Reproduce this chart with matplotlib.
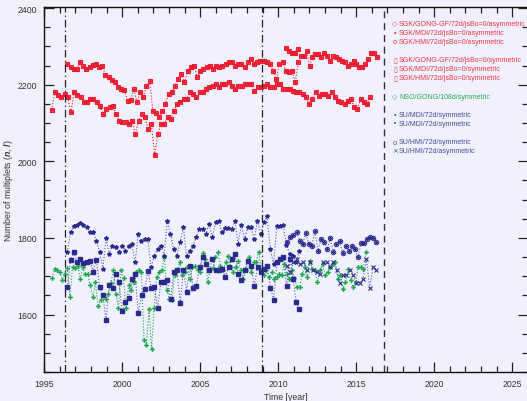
import numpy as np
import matplotlib
matplotlib.use('Agg')
import matplotlib.pyplot as plt
from matplotlib.ticker import MultipleLocator

plt.rcParams['font.family'] = ['Liberation Sans', 'DejaVu Sans']
plt.rcParams['mathtext.fontset'] = 'custom'
plt.rcParams['mathtext.it'] = 'Liberation Sans:italic:bold'
plt.rcParams['mathtext.rm'] = 'Liberation Sans'

# SGK fits, red
sgk_low = [2134, 2180, 2173, 2167, 2176, 2167, 2128, 2180, 2173, 2167, 2154, 2154, 2163, 2163, 2154,
           2145, 2123, 2136, 2141, 2145, 2123, 2106, 2103, 2102, 2097, 2106, 2071, 2106, 2123, 2115,
           2084, 2097, 2016, 2071, 2097, 2097, 2115, 2110, 2132, 2150, 2154, 2163, 2163, 2180, 2176,
           2167, 2180, 2180, 2189, 2193,
           2197, 2202, 2193, 2202, 2202, 2206, 2197, 2188, 2197, 2197, 2202, 2202, 2202, 2184, 2193,
           2193, 2197, 2202, 2193, 2193, 2202, 2202, 2188, 2188, 2188, 2184, 2180, 2180, 2175, 2167,
           2149, 2162, 2180, 2171, 2175, 2175, 2171, 2180, 2167, 2158, 2154, 2149, 2158, 2162, 2141,
           2136, 2162, 2154, 2149, 2167]
sgk_low_span = (1995.47, 2015.9)

sgk_mdi = [2254, 2245, 2240, 2241, 2258, 2248, 2240, 2245, 2252, 2254, 2245, 2250, 2225, 2219, 2212,
           2206, 2195, 2190, 2185, 2158, 2160, 2189, 2154, 2180, 2167, 2197, 2210, 2132, 2125, 2115,
           2132, 2150, 2176, 2180, 2197, 2215, 2228, 2206, 2236, 2245, 2250, 2219, 2236, 2240, 2245,
           2250,
           2241, 2249, 2245, 2249, 2254, 2258, 2258, 2249, 2254, 2254, 2245, 2258, 2267, 2254, 2258,
           2262, 2262, 2258, 2254, 2236, 2215, 2254, 2258, 2236, 2232, 2236, 2206, 2258]
sgk_mdi_span = (1996.48, 2011.29)

sgk_hmi = [2297, 2288, 2284, 2284, 2293, 2275, 2275, 2288, 2249, 2271, 2280, 2280, 2271, 2284, 2275,
           2262, 2275, 2271, 2267, 2262, 2258, 2249, 2254, 2262, 2254, 2245, 2245, 2254, 2267, 2284,
           2284, 2271]
sgk_hmi_span = (2010.5, 2016.33)

# NSO GONG, green
gong = [1696, 1719, 1716, 1710, 1691, 1706, 1721, 1645, 1723, 1721, 1728, 1693, 1723, 1706, 1706,
        1676, 1645, 1684, 1621, 1639, 1651, 1641, 1654, 1683, 1715, 1654, 1616, 1715, 1695, 1617,
        1676, 1663, 1684, 1710, 1715, 1710, 1534, 1521, 1615, 1510, 1616, 1697, 1710, 1715, 1751,
        1663, 1641, 1639, 1702, 1715, 1736, 1702, 1710, 1723, 1693, 1723, 1728, 1715, 1710, 1760,
        1745, 1684, 1719, 1721,
        1749, 1764, 1728, 1715, 1736, 1754, 1723, 1710, 1723, 1741, 1715, 1693, 1715, 1749, 1710,
        1736, 1738, 1764, 1715, 1702, 1717, 1697, 1710, 1693, 1697, 1706, 1702, 1732, 1706, 1693,
        1715, 1695, 1671, 1671, 1706, 1723, 1697, 1741, 1719, 1715, 1684, 1715, 1732, 1702, 1710,
        1723, 1732, 1738, 1693, 1702, 1667, 1684, 1719, 1689, 1671, 1684, 1723, 1723, 1719, 1763]
gong_span = (1995.5, 2015.62)

# SU fits, blue
su_mdi_a = [1763, 1815, 1832, 1835, 1838, 1834, 1828, 1815, 1815, 1793, 1763, 1719, 1799, 1758, 1780,
            1776, 1763, 1780, 1767, 1780, 1784, 1736, 1810, 1793, 1797, 1796, 1723, 1754, 1771, 1780,
            1754, 1845, 1810, 1771, 1754, 1789, 1828, 1754, 1767, 1780, 1802, 1823, 1823, 1810,
            1836, 1802, 1841, 1843, 1816, 1825, 1825, 1822, 1845, 1784, 1834, 1796, 1828, 1828, 1797,
            1845, 1810, 1841, 1856, 1771, 1732, 1830, 1830, 1834, 1782, 1758, 1754, 1736, 1767]
su_mdi_a_span = (1996.48, 2011.35)

su_mdi_b = [1671, 1743, 1762, 1736, 1745, 1735, 1736, 1741, 1712, 1743, 1671, 1650, 1586, 1676, 1670,
            1706, 1684, 1609, 1632, 1643, 1693, 1706, 1604, 1650, 1667, 1713, 1670, 1673, 1617, 1684,
            1684, 1691, 1641, 1710, 1715, 1630, 1715, 1660, 1728, 1669, 1674, 1723, 1751, 1732, 1715,
            1745, 1715, 1717, 1719, 1699, 1723, 1745, 1758, 1706, 1690, 1715, 1741, 1728, 1674, 1723,
            1710, 1719, 1728, 1669, 1639, 1738, 1745, 1750, 1674, 1745, 1693, 1632, 1615]
su_mdi_b_span = (1996.48, 2011.36)

su_hmi_s = [1789, 1802, 1808, 1816, 1793, 1784, 1813, 1784, 1780, 1819, 1767, 1797, 1790, 1771, 1799,
            1763, 1784, 1793, 1760, 1780, 1767, 1780, 1771, 1750, 1787, 1787, 1797, 1802, 1800, 1790]
su_hmi_s_span = (2010.58, 2016.29)

su_hmi_a = [1750, 1728, 1710, 1736, 1745, 1732, 1736, 1715, 1736, 1715, 1710, 1706, 1736, 1736, 1723,
            1736, 1715, 1683, 1702, 1703, 1715, 1702, 1683, 1683, 1693, 1745, 1670, 1724, 1717]
su_hmi_a_span = (2010.33, 2016.29)

vlines_dashdot = [1996.3, 2008.95]
vline_dashed = 2016.8

legend_items = [('\u25c7', 'SGK/GONG-GF/72d/jsBo=0/asymmetric', 'red'),
                ('\u2219', 'SGK/MDI/72d/jsBo=0/asymmetric', 'red'),
                ('o', 'SGK/HMI/72d/jsBo=0/asymmetric', 'red'),
                None,
                ('\u25af', 'SGK/GONG-GF/72d/jsBo=0/symmetric', 'red'),
                ('\u25af', 'SGK/MDI/72d/jsBo=0/symmetric', 'red'),
                ('\u25af', 'SGK/HMI/72d/jsBo=0/symmetric', 'red'),
                None,
                ('\u25c7', 'NSO/GONG/108d/symmetric', 'green'),
                None,
                ('\u2219', 'SU/MDI/72d/symmetric', 'blue'),
                ('\u2022', 'SU/MDI/72d/symmetric', 'blue'),
                None,
                ('o', 'SU/HMI/72d/symmetric', 'blue'),
                ('\u00d7', 'SU/HMI/72d/asymmetric', 'blue')]

bg = '#F1F1FD'
red = '#EE1C30'
blue = '#2B2B8E'
blue_line = '#5A5AAA'
green = '#16A84A'
text_cols = {'red': '#EE3344', 'green': '#22AA55', 'blue': '#4A4A9E'}


def times(vals, span):
    return np.linspace(span[0], span[1], len(vals))


fig = plt.figure(figsize=(5.27, 4.02), dpi=100, facecolor=bg)
ax = fig.add_axes([44.3 / 527, 29 / 402, 483.5 / 527, 364.7 / 402])
ax.set_facecolor(bg)

dot = dict(linestyle=':', linewidth=0.8)

# red curves: hollow squares with a dot on top
for vals, span in [(sgk_low, sgk_low_span), (sgk_mdi, sgk_mdi_span), (sgk_hmi, sgk_hmi_span)]:
    t = times(vals, span)
    ax.plot(t, vals, color=red, marker='s', ms=3.3, mfc='none', mew=0.8, **dot)
    ax.plot(t, vals, color=red, marker='o', ms=1.4, linestyle='none')

# green
t = times(gong, gong_span)
ax.plot(t, gong, color=green, marker='P', ms=3.4, mew=0, **dot)

# blue
t = times(su_mdi_a, su_mdi_a_span)
ax.plot(t, su_mdi_a, color=blue_line, marker='*', ms=3.0, mfc=blue, mec=blue, **dot)
t = times(su_mdi_b, su_mdi_b_span)
ax.plot(t, su_mdi_b, color=blue_line, marker='s', ms=2.8, mfc=blue, mec=blue, **dot)
t = times(su_hmi_s, su_hmi_s_span)
ax.plot(t, su_hmi_s, color=blue_line, marker='o', ms=3.2, mfc='none', mec=blue, mew=0.7, **dot)
ax.plot(t, su_hmi_s, color=blue, marker='o', ms=1.2, linestyle='none')
t = times(su_hmi_a, su_hmi_a_span)
ax.plot(t, su_hmi_a, color=blue_line, marker='x', ms=2.8, mec=blue, mew=0.8, **dot)

for x in vlines_dashdot:
    ax.axvline(x, color='#222222', linewidth=0.9, linestyle=(0, (6, 2.5, 1, 2.5)))
ax.axvline(vline_dashed, color='#333333', linewidth=1.0, linestyle=(0, (5, 3.5)))

ax.set_xlim(1995, 2026)
ax.set_ylim(1450, 2402)
ax.xaxis.set_major_locator(MultipleLocator(5))
ax.xaxis.set_minor_locator(MultipleLocator(1))
ax.yaxis.set_major_locator(MultipleLocator(200))
ax.yaxis.set_minor_locator(MultipleLocator(50))
ax.tick_params(which='both', direction='in', top=True, right=True, colors='#222222',
               labelcolor='#333333', labelsize=6.3, width=0.9)
ax.tick_params(which='major', length=7, pad=5)
ax.tick_params(which='minor', length=4)
for s in ax.spines.values():
    s.set_linewidth(1.0)
    s.set_color('#111111')

ax.set_xlabel('Time [year]', fontsize=6.3, color='#333333')
ax.xaxis.set_label_coords(0.5, -0.055)
ax.set_ylabel('Number of multiplets ($n$, $l$)', fontsize=6.3, color='#333333')
ax.yaxis.set_label_coords(-0.061, 0.5)

y0 = 24.3
for item in legend_items:
    if item is not None:
        sym, label, c = item
        fig.text(395 / 527, 1 - y0 / 402, sym, color=text_cols[c], fontsize=5.0,
                 ha='center', va='center', family=['DejaVu Sans'])
        fig.text(399 / 527, 1 - y0 / 402, label, color=text_cols[c], fontsize=5.0,
                 ha='left', va='center')
    y0 += 9.1

fig.savefig('out.png', dpi=100, facecolor=bg)
